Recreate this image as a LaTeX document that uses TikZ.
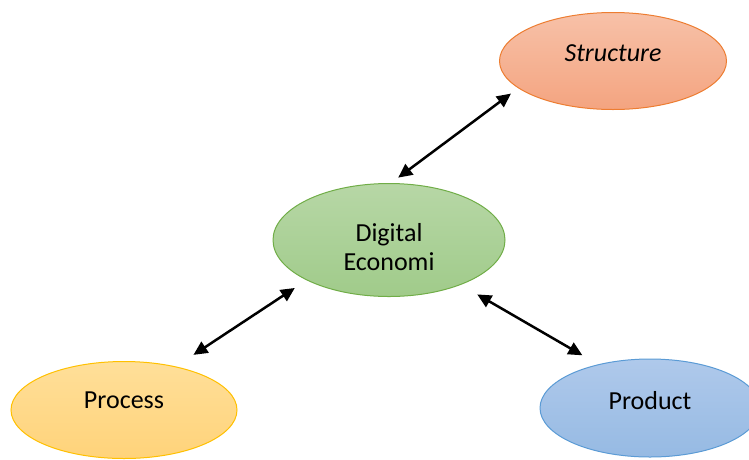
\documentclass[tikz,border=0pt]{standalone}
\usepackage{fontspec}
\setmainfont{Carlito}
\usetikzlibrary{shapes.geometric,arrows.meta}
\definecolor{strBd}{RGB}{237,125,49}
\definecolor{strTop}{RGB}{247,193,168}
\definecolor{strBot}{RGB}{244,164,128}
\definecolor{digBd}{RGB}{112,173,71}
\definecolor{digTop}{RGB}{183,215,166}
\definecolor{digBot}{RGB}{160,203,138}
\definecolor{proBd}{RGB}{255,192,0}
\definecolor{proTop}{RGB}{255,223,153}
\definecolor{proBot}{RGB}{255,211,122}
\definecolor{prdBd}{RGB}{91,155,213}
\definecolor{prdTop}{RGB}{175,201,235}
\definecolor{prdBot}{RGB}{150,186,227}
\begin{document}
\begin{tikzpicture}[x=1pt,y=-1pt,
  blob/.style={ellipse, inner sep=0pt, line width=1pt},
  lbl/.style={font=\fontsize{26}{29}\selectfont, inner sep=0pt},
  arr/.style={line width=2.5pt, {Triangle[length=14pt,width=13pt]}-{Triangle[length=14pt,width=13pt]}}]
\path[use as bounding box] (0,0) rectangle (749,459);
\clip (0,0) rectangle (749,459);
\node[blob, draw=strBd, top color=strTop, bottom color=strBot,
      minimum width=227pt, minimum height=97pt] (str) at (613,61) {};
\node[blob, draw=digBd, top color=digTop, bottom color=digBot,
      minimum width=232pt, minimum height=113pt] (dig) at (389,240) {};
\node[blob, draw=proBd, top color=proTop, bottom color=proBot,
      minimum width=226pt, minimum height=97pt] (pro) at (124,410) {};
\node[blob, draw=prdBd, top color=prdTop, bottom color=prdBot,
      minimum width=220pt, minimum height=98pt] (prd) at (650,408) {};
\node[lbl, anchor=base] (strL) at (613,61) {\textit{Structure}};
\node[lbl, align=center] (digL) at (389,247) {Digital\\Economi};
\node[lbl, anchor=base] (proL) at (124,408) {Process};
\node[lbl, anchor=base] (prdL) at (650,409) {Product};
\draw[arr, shorten <=9pt, shorten >=9pt] (dig.88.5) -- (str.196.4);
\draw[arr, shorten <=14pt, shorten >=21pt] (dig.206.4) -- (pro.40.3);
\draw[arr, shorten <=19pt, shorten >=18pt] (dig.328.2) -- (prd.140.8);
\end{tikzpicture}
\end{document}
